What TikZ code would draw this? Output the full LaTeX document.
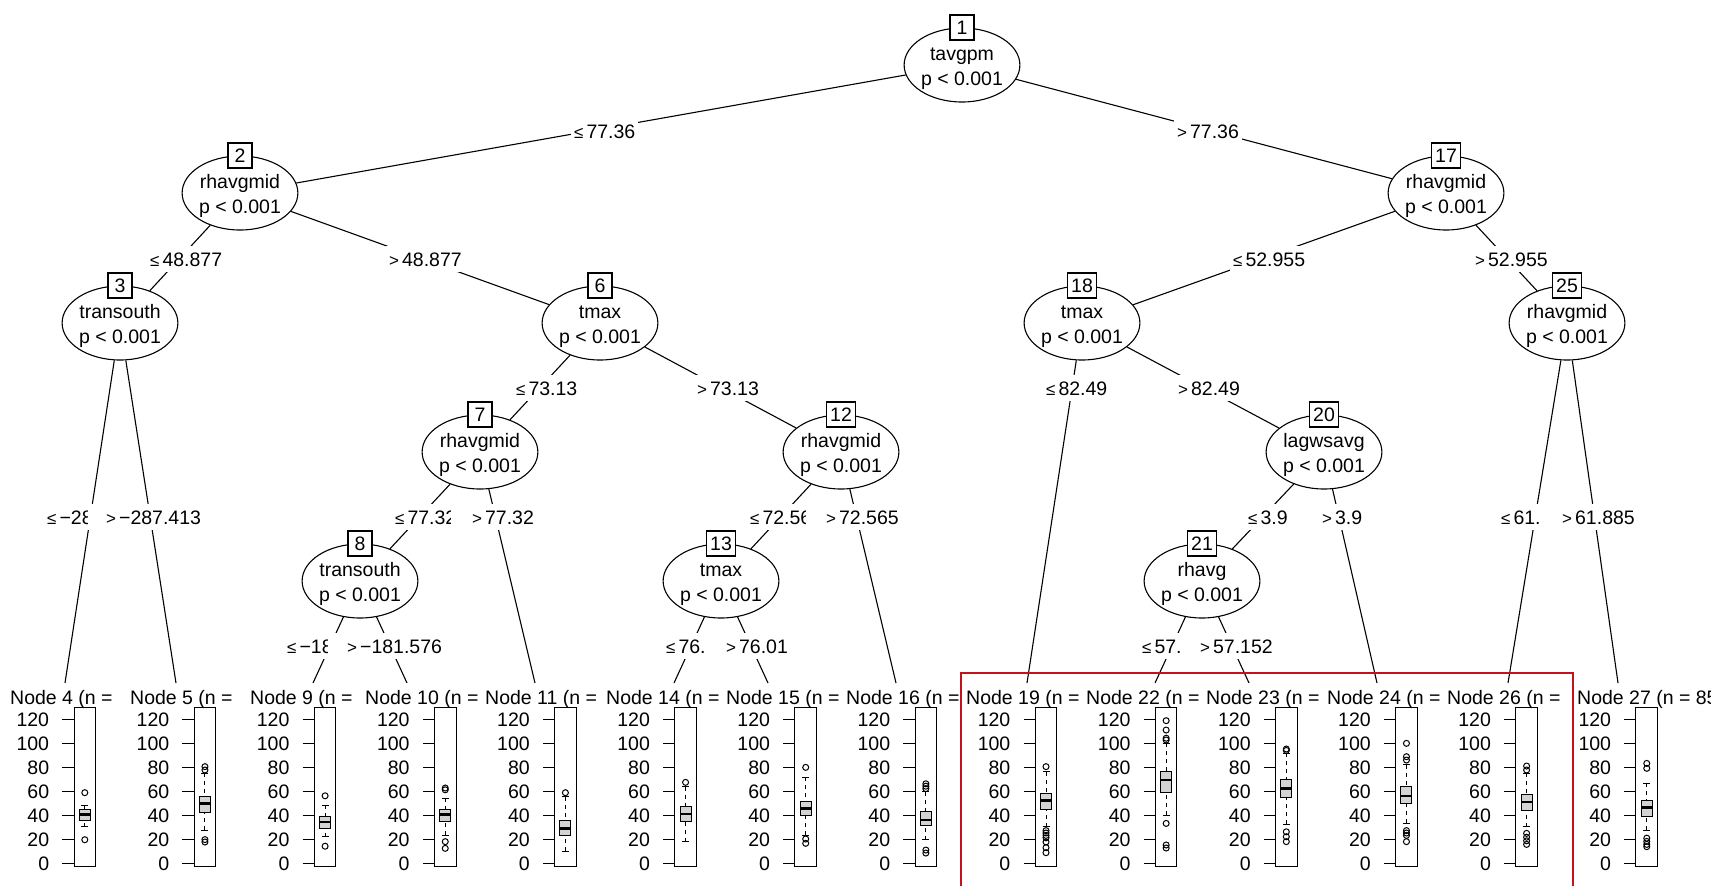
\documentclass[tikz,border=0pt]{standalone}
\usepackage{fontspec}
\setmainfont{Liberation Sans}
\usetikzlibrary{shapes.geometric}
\pgfdeclarelayer{bg}
\pgfsetlayers{bg,main}
\definecolor{boxgray}{RGB}{211,211,211}
\definecolor{hlred}{RGB}{196,18,28}
\newcommand{\txtfont}{\fontsize{19.5}{24.5}\selectfont}
\newcommand{\relle}{{\fontsize{17}{17}\selectfont ≤}\hspace{3pt}}
\newcommand{\relgt}{{\fontsize{17}{17}\selectfont >}\hspace{3pt}}
\newcommand{\twoln}[2]{\raisebox{0pt}[20pt][0pt]{#1}\\#2}
% #1 id, #2 centre x, #3 lower whisker, #4 q1, #5 median, #6 q3, #7 upper whisker, #8 outliers
\newcommand{\leafbox}[8]{%
  \draw[axline] ({#2-10.8},707) rectangle ({#2+10.8},866);
  \foreach \v in {0,20,...,120} {
    \draw[axline] ({#2-22.5},{863-1.2*\v}) -- ({#2-10.8},{863-1.2*\v});
    \node[ticklab] (tk#1-\v) at ({#2-35.5},{863-1.2*\v}) {\v};
  }
  \draw[whisk] (#2,{863-1.2*#7}) -- (#2,{863-1.2*#6});
  \draw[whisk] (#2,{863-1.2*#3}) -- (#2,{863-1.2*#4});
  \draw[axline] ({#2-3.5},{863-1.2*#7}) -- ({#2+3.5},{863-1.2*#7});
  \draw[axline] ({#2-3.5},{863-1.2*#3}) -- ({#2+3.5},{863-1.2*#3});
  \draw[axline,fill=boxgray] ({#2-5.5},{863-1.2*#4}) rectangle ({#2+5.5},{863-1.2*#6});
  \draw[medline] ({#2-5.5},{863-1.2*#5}) -- ({#2+5.5},{863-1.2*#5});
  \foreach \o in {#8} { \draw[outl] (#2,{863-1.2*\o}) circle[radius=3]; }
}
\begin{document}
\begin{tikzpicture}[x=1pt,y=-1pt,
  inner/.style={ellipse, draw, fill=white, line width=1.1pt, minimum width=110pt,
    minimum height=74pt, inner sep=0pt, align=center, font=\txtfont},
  numbox/.style={rectangle, draw, fill=white, line width=1.1pt, minimum width=24pt,
    minimum height=25pt, inner xsep=3.5pt, inner ysep=0pt, text height=14pt,
    text depth=0pt, font=\txtfont},
  elab/.style={fill=white, anchor=west, inner xsep=3pt, inner ysep=0pt,
    minimum height=26pt, text height=14pt, text depth=0pt, font=\txtfont},
  leaflab/.style={anchor=west, inner sep=0pt, text height=14pt, text depth=0pt, font=\txtfont},
  ticklab/.style={anchor=east, inner sep=0pt, text height=14pt, text depth=0pt, font=\txtfont},
  conn/.style={line width=1.1pt},
  axline/.style={line width=1pt},
  whisk/.style={line width=1pt, dash pattern=on 4pt off 4pt},
  medline/.style={line width=2.5pt},
  outl/.style={line width=1pt}]
\useasboundingbox (0,0) rectangle (1711,886);
\begin{pgfonlayer}{bg}
  \fill[white] (0,0) rectangle (1711,886);
\end{pgfonlayer}

% inner nodes
\node[inner] (n1)  at (962,65)   {\twoln{tavgpm}{p < 0.001}};
\node[inner] (n2)  at (240,193)  {\twoln{rhavgmid}{p < 0.001}};
\node[inner] (n17) at (1446,193) {\twoln{rhavgmid}{p < 0.001}};
\node[inner] (n3)  at (120,323)  {\twoln{transouth}{p < 0.001}};
\node[inner] (n6)  at (600,323)  {\twoln{tmax}{p < 0.001}};
\node[inner] (n18) at (1082,323) {\twoln{tmax}{p < 0.001}};
\node[inner] (n25) at (1567,323) {\twoln{rhavgmid}{p < 0.001}};
\node[inner] (n7)  at (480,452)  {\twoln{rhavgmid}{p < 0.001}};
\node[inner] (n12) at (841,452)  {\twoln{rhavgmid}{p < 0.001}};
\node[inner] (n20) at (1324,452) {\twoln{lagwsavg}{p < 0.001}};
\node[inner] (n8)  at (360,581)  {\twoln{transouth}{p < 0.001}};
\node[inner] (n13) at (721,581)  {\twoln{tmax}{p < 0.001}};
\node[inner] (n21) at (1202,581) {\twoln{rhavg}{p < 0.001}};

\foreach \k in {1,2,17,3,6,18,25,7,12,20,8,13,21} {
  \node[numbox] (b\k) at (n\k.north) {\k};
}

% leaf connector ends
\coordinate (l4)  at (65,683);
\coordinate (l5)  at (176,683);
\coordinate (l9)  at (313,683);
\coordinate (l10) at (407,683);
\coordinate (l11) at (535,683);
\coordinate (l14) at (674,683);
\coordinate (l15) at (768,683);
\coordinate (l16) at (896,683);
\coordinate (l19) at (1027,683);
\coordinate (l22) at (1155,683);
\coordinate (l23) at (1249,683);
\coordinate (l24) at (1377,683);
\coordinate (l26) at (1508,683);
\coordinate (l27) at (1618,683);

% edge labels
\node[elab] (e2)  at (571,131)  {\relle 77.36};
\node[elab] (e17) at (1174,131) {\relgt 77.36};
\node[elab] (e3)  at (147,259)  {\relle 48.877};
\node[elab] (e6)  at (386,259)  {\relgt 48.877};
\node[elab] (e18) at (1230,259) {\relle 52.955};
\node[elab] (e25) at (1472,259) {\relgt 52.955};
\node[elab] (e7)  at (513,388)  {\relle 73.13};
\node[elab] (e12) at (694,388)  {\relgt 73.13};
\node[elab] (e19) at (1043,388) {\relle 82.49};
\node[elab] (e20) at (1175,388) {\relgt 82.49};
\node[elab] (e4)  at (44,517)   {\relle −28};
\node[elab] (e5)  at (88,517)   {\hspace*{15pt}\relgt −287.413};
\node[elab] (e8)  at (392,517)  {\relle 77.32};
\node[elab] (e11) at (451,517)  {\hspace*{18pt}\relgt 77.32};
\node[elab] (e13) at (747,517)  {\relle 72.56};
\node[elab] (e16) at (806,517)  {\hspace*{17pt}\relgt 72.565};
\node[elab] (e21) at (1245,517) {\relle 3.9};
\node[elab] (e24) at (1319,517) {\relgt 3.9};
\node[elab] (e26) at (1498,517) {\relle 61.};
\node[elab] (e27) at (1545,517) {\hspace*{14pt}\relgt 61.885};
\node[elab] (e9)  at (284,646)  {\relle −18};
\node[elab] (e10) at (328,646)  {\hspace*{16pt}\relgt −181.576};
\node[elab] (e14) at (663,646)  {\relle 76.};
\node[elab] (e15) at (710,646)  {\hspace*{13pt}\relgt 76.01};
\node[elab] (e22) at (1139,646) {\relle 57.};
\node[elab] (e23) at (1184,646) {\hspace*{13pt}\relgt 57.152};

% connectors
\begin{pgfonlayer}{bg}
  \draw[conn] (n1) -- (n2);   \draw[conn] (n1) -- (n17);
  \draw[conn] (n2) -- (n3);   \draw[conn] (n2) -- (n6);
  \draw[conn] (n3) -- (l4);   \draw[conn] (n3) -- (l5);
  \draw[conn] (n6) -- (n7);   \draw[conn] (n6) -- (n12);
  \draw[conn] (n7) -- (n8);   \draw[conn] (n7) -- (l11);
  \draw[conn] (n8) -- (l9);   \draw[conn] (n8) -- (l10);
  \draw[conn] (n12) -- (n13); \draw[conn] (n12) -- (l16);
  \draw[conn] (n13) -- (l14); \draw[conn] (n13) -- (l15);
  \draw[conn] (n17) -- (n18); \draw[conn] (n17) -- (n25);
  \draw[conn] (n18) -- (l19); \draw[conn] (n18) -- (n20);
  \draw[conn] (n20) -- (n21); \draw[conn] (n20) -- (l24);
  \draw[conn] (n21) -- (l22); \draw[conn] (n21) -- (l23);
  \draw[conn] (n25) -- (l26); \draw[conn] (n25) -- (l27);
\end{pgfonlayer}

% leaf labels
\node[leaflab] (lab4)  at (10,697)   {Node 4 (n =};
\node[leaflab] (lab5)  at (130,697)  {Node 5 (n =};
\node[leaflab] (lab9)  at (250,697)  {Node 9 (n =};
\node[leaflab] (lab10) at (365,697)  {Node 10 (n =};
\node[leaflab] (lab11) at (485,697)  {Node 11 (n =};
\node[leaflab] (lab14) at (606,697)  {Node 14 (n =};
\node[leaflab] (lab15) at (726,697)  {Node 15 (n =};
\node[leaflab] (lab16) at (846,697)  {Node 16 (n =};
\node[leaflab] (lab19) at (966,697)  {Node 19 (n =};
\node[leaflab] (lab22) at (1086,697) {Node 22 (n =};
\node[leaflab] (lab23) at (1206,697) {Node 23 (n =};
\node[leaflab] (lab24) at (1327,697) {Node 24 (n =};
\node[leaflab] (lab26) at (1447,697) {Node 26 (n =};
\node[leaflab] (lab27) at (1577,697) {Node 27 (n = 85};

% box plots
\leafbox{4}{84.8}{30.3}{35.8}{40.5}{44.2}{48.3}{58.6,19.4}
\leafbox{5}{204.95}{27.5}{42}{49.7}{55.3}{74.7}{80.3,77.5,19.5,17.5}
\leafbox{9}{325.1}{22}{29}{34}{39}{48}{56,14}
\leafbox{10}{445.25}{23}{34.4}{40.5}{44.7}{54}{62.5,61,17.8,12.2}
\leafbox{11}{565.4}{10}{23.3}{28.9}{35.8}{55.3}{58.6}
\leafbox{14}{685.55}{17.8}{34.4}{40.8}{47.5}{63.6}{67.2}
\leafbox{15}{805.7}{23.3}{39.2}{45.6}{51.1}{71.4}{79.7,20,16.4}
\leafbox{16}{925.85}{19.2}{31.1}{35.8}{43.3}{59.4}{66,64,62,10.8,8.3}
\leafbox{19}{1046}{30.3}{45}{51.9}{58}{76}{80.3,27,25,23,21,17.5,12.8,8.6}
\leafbox{22}{1166.15}{40}{58.9}{69.2}{76}{99.7}{118.6,110.8,104,102.5,33,15,12.5}
\leafbox{23}{1286.3}{32.5}{54.7}{62.2}{69.7}{91.4}{95,93.8,26,21.9,17.8}
\leafbox{24}{1406.45}{33}{49.2}{56}{63.6}{81.7}{99.7,88.6,85.8,27,25,23,17.8}
\leafbox{26}{1526.6}{30.3}{43.6}{51}{57.2}{74.7}{80.8,77.5,24.7,21.5,18.5,15.5}
\leafbox{27}{1646.75}{27.5}{38.6}{46.4}{52.5}{66.4}{83,78.9,20.7,18,15.5,13.6}

% highlight frame
\draw[hlred, line width=2pt] (961,886) |- (1573,673) -- (1573,886);
\end{tikzpicture}
\end{document}
